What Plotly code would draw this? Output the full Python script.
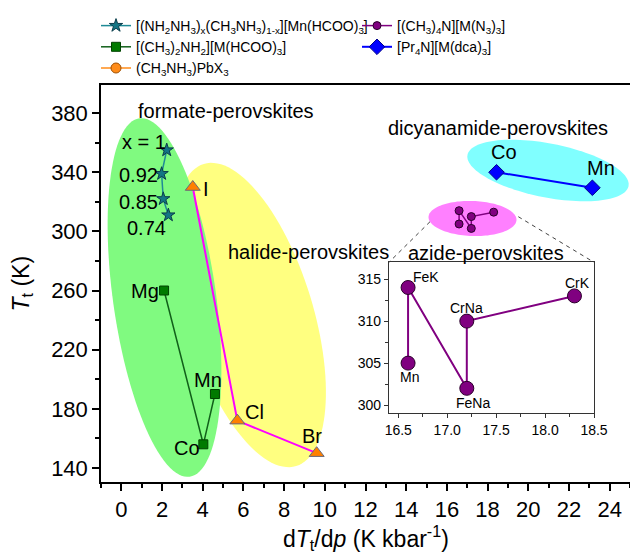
import numpy as np
import plotly.graph_objects as go

# ---------------- data ----------------
formate_x = [2.23, 1.98, 2.06, 2.31]
formate_y = [355, 339, 322, 311]
formate_labels = ["x = 1", "0.92", "0.85", "0.74"]

dma_x = [2.10, 4.03, 4.60]
dma_y = [260, 156, 190]
dma_labels = ["Mg", "Co", "Mn"]

halide_x = [3.51, 5.70, 9.60]
halide_y = [330, 172, 150]
halide_labels = ["I", "Cl", "Br"]

azide_x = [16.6, 16.6, 17.2, 17.2, 18.3]
azide_y = [305, 314, 302, 310, 313]
azide_labels = ["Mn", "FeK", "FeNa", "CrNa", "CrK"]

dca_x = [18.44, 23.15]
dca_y = [340, 329.5]
dca_labels = ["Co", "Mn"]

x_ticks = list(range(0, 25, 2))
y_ticks = list(range(140, 381, 40))
inset_x_ticks = [16.5, 17.0, 17.5, 18.0, 18.5]
inset_y_ticks = [300, 305, 310, 315]

# ---------------- layout geometry ----------------
W, H = 630, 554
ML, MR, MT, MB = 101, 0, 85, 72
XR = [-1, 25]
YR = [130.5, 399]
PW, PH = W - ML - MR, H - MT - MB
FONT = "Arial, Liberation Sans, sans-serif"


def px2data(px, py):
    x = XR[0] + (px - ML) / PW * (XR[1] - XR[0])
    y = YR[1] - (py - MT) / PH * (YR[1] - YR[0])
    return x, y


def ellipse_path(cx, cy, a, b, phi_deg, n=120):
    phi = np.radians(phi_deg)
    t = np.linspace(0, 2 * np.pi, n, endpoint=False)
    u, v = a * np.cos(t), b * np.sin(t)
    X = cx + u * np.cos(phi) - v * np.sin(phi)
    Y = cy + u * np.sin(phi) + v * np.cos(phi)
    pts = [px2data(X[i], Y[i]) for i in range(n)]
    return "M " + " L ".join(f"{p[0]:.4f},{p[1]:.4f}" for p in pts) + " Z"


fig = go.Figure()

shapes = []
for (cx, cy, a, b, ang, col) in [
    (250, 315, 158, 63, 73, "rgb(255,255,128)"),
    (164.5, 297.5, 181, 51.5, 82, "rgb(128,250,128)"),
    (548, 170.5, 82, 27, 11, "rgb(128,255,255)"),
    (472.5, 218.5, 44, 17.5, 2, "rgb(255,128,255)"),
]:
    shapes.append(dict(type="path", path=ellipse_path(cx, cy, a, b, ang),
                       xref="x", yref="y", fillcolor=col, line=dict(width=0),
                       layer="below"))

# inset domain
IX = [0.5444, 0.932]
IY = [0.1746, 0.5534]
ins_left_px = ML + IX[0] * PW
ins_right_px = ML + IX[1] * PW
ins_top_px = MT + (1 - IY[1]) * PH
for (p0, p1) in [((430, 221.7), (ins_left_px, ins_top_px)),
                 ((518.3, 216.7), (ins_right_px, ins_top_px))]:
    a0 = px2data(*p0)
    a1 = px2data(*p1)
    shapes.append(dict(type="line", xref="x", yref="y", x0=a0[0], y0=a0[1],
                       x1=a1[0], y1=a1[1],
                       line=dict(color="#444444", width=1, dash="4px,4px")))

# ---------------- traces ----------------
fig.add_trace(go.Scatter(
    x=formate_x, y=formate_y, mode="lines+markers",
    name="[(NH<sub>2</sub>NH<sub>3</sub>)<sub>x</sub>(CH<sub>3</sub>NH<sub>3</sub>)<sub>1-x</sub>][Mn(HCOO)<sub>3</sub>]",
    line=dict(color="#1f8a96", width=1.5),
    marker=dict(symbol="star", size=10, color="#137584",
                line=dict(color="#0a3c4a", width=1)),
    legend="legend"))
fig.add_trace(go.Scatter(
    x=dma_x, y=dma_y, mode="lines+markers",
    name="[(CH<sub>3</sub>)<sub>2</sub>NH<sub>2</sub>][M(HCOO)<sub>3</sub>]",
    line=dict(color="#11601a", width=1.5),
    marker=dict(symbol="square", size=9, color="#007a00",
                line=dict(color="#004400", width=1)),
    legend="legend"))
fig.add_trace(go.Scatter(
    x=[None], y=[None], mode="lines+markers",
    name="(CH<sub>3</sub>NH<sub>3</sub>)PbX<sub>3</sub>",
    line=dict(color="#ff8c1a", width=1.5),
    marker=dict(symbol="circle", size=10, color="#ff8c1a",
                line=dict(color="#a05000", width=1)),
    legend="legend"))
fig.add_trace(go.Scatter(
    x=halide_x, y=halide_y, mode="lines+markers", showlegend=False,
    line=dict(color="#ff00ff", width=2),
    marker=dict(symbol="triangle-up", size=13, color="#ff8000",
                line=dict(color="#6a6a7a", width=1))))
fig.add_trace(go.Scatter(
    x=azide_x, y=azide_y, mode="lines+markers",
    name="[(CH<sub>3</sub>)<sub>4</sub>N][M(N<sub>3</sub>)<sub>3</sub>]",
    line=dict(color="#800080", width=1.5),
    marker=dict(symbol="circle", size=8, color="#800080",
                line=dict(color="#2a002a", width=1)),
    legend="legend2"))
fig.add_trace(go.Scatter(
    x=dca_x, y=dca_y, mode="lines+markers",
    name="[Pr<sub>4</sub>N][M(dca)<sub>3</sub>]",
    line=dict(color="#0000ff", width=2),
    marker=dict(symbol="diamond", size=12, color="#0000ff",
                line=dict(color="#00008a", width=1)),
    legend="legend2"))
fig.add_trace(go.Scatter(
    x=azide_x, y=azide_y, mode="lines+markers", showlegend=False,
    xaxis="x2", yaxis="y2",
    line=dict(color="#800080", width=2),
    marker=dict(symbol="circle", size=14, color="#800080",
                line=dict(color="#2a002a", width=1))))

# ---------------- annotations ----------------
ann = []


def lab(x, y, text, dx, dy, size=20, xref="x", yref="y"):
    ann.append(dict(x=x, y=y, xref=xref, yref=yref, text=text, showarrow=False,
                    xshift=dx, yshift=dy, xanchor="center", yanchor="middle",
                    font=dict(size=size, color="black", family=FONT)))


for x, y, t, s in zip(formate_x, formate_y, formate_labels,
                      [(-22.7, 7.7), (-23.4, -1), (-24.6, -2.7), (-22.3, -13)]):
    lab(x, y, t, *s)
for x, y, t, s in zip(dma_x, dma_y, dma_labels,
                      [(-19, 0), (-16.3, -3.7), (-7.2, 14)]):
    lab(x, y, t, *s)
for x, y, t, s in zip(halide_x, halide_y, halide_labels,
                      [(13.3, -1.6), (17.2, 9), (-5, 17.3)]):
    lab(x, y, t, *s)
for x, y, t, s in zip(dca_x, dca_y, dca_labels, [(7.3, 20), (8.3, 19.7)]):
    lab(x, y, t, *s)
for x, y, t, s in zip(azide_x, azide_y, azide_labels,
                      [(1, -14), (18, 11), (6.5, -14.5), (0, 13), (3, 13)]):
    lab(x, y, t, *s, size=14, xref="x2", yref="y2")

for (px, py, t) in [(225.8, 111, "formate-perovskites"),
                    (308.8, 251.7, "halide-perovskites"),
                    (498, 128.3, "dicyanamide-perovskites"),
                    (485.5, 253, "azide-perovskites")]:
    dx, dy = px2data(px, py)
    lab(dx, dy, t, 0, 0)

# axis titles
ann.append(dict(x=0.5, y=(H - MB - 538) / PH, xref="paper", yref="paper",
                text="d<i>T</i><sub>t</sub>/d<i>p</i> (K kbar<sup>-1</sup>)",
                showarrow=False, xanchor="center", yanchor="middle",
                font=dict(size=23, color="black", family=FONT)))
ann.append(dict(x=(22 - ML) / PW, y=0.5, xref="paper", yref="paper",
                text="<i>T</i><sub>t</sub> (K)", textangle=-90,
                showarrow=False, xanchor="center", yanchor="middle",
                font=dict(size=23, color="black", family=FONT)))

axis_common = dict(showline=True, linecolor="black", linewidth=1.5,
                   ticks="outside", tickcolor="black", tickwidth=1.5,
                   showgrid=False, zeroline=False,
                   tickfont=dict(size=22, color="black", family=FONT))

inset_common = dict(showline=True, linecolor="#333", linewidth=1.2, mirror=True,
                    ticks="outside", ticklen=4, tickcolor="#333", tickwidth=1.2,
                    showgrid=False, zeroline=False,
                    tickfont=dict(size=14, color="black", family=FONT))

fig.update_layout(
    width=W, height=H,
    margin=dict(l=ML, r=MR, t=MT, b=MB, pad=0, autoexpand=False),
    paper_bgcolor="white", plot_bgcolor="white",
    font=dict(family=FONT, color="black"),
    shapes=shapes, annotations=ann,
    xaxis=dict(range=XR, tickvals=x_ticks, ticklen=7, mirror=True,
               minor=dict(dtick=1, tick0=0, ticks="outside", ticklen=4,
                          tickcolor="black", tickwidth=1.5),
               **axis_common),
    yaxis=dict(range=YR, tickvals=y_ticks, ticklen=7,
               minor=dict(dtick=20, tick0=140, ticks="outside", ticklen=4,
                          tickcolor="black", tickwidth=1.5),
               **axis_common),
    xaxis2=dict(domain=IX, anchor="y2", range=[16.405, 18.5],
                tickvals=inset_x_ticks, tickformat=".1f",
                minor=dict(dtick=0.25, tick0=16.5, ticks="outside", ticklen=3,
                           tickcolor="#333"),
                **inset_common),
    yaxis2=dict(domain=IY, anchor="x2", range=[299.1, 317],
                tickvals=inset_y_ticks,
                minor=dict(dtick=2.5, tick0=300, ticks="outside", ticklen=3,
                           tickcolor="#333"),
                **inset_common),
    legend=dict(x=(96 - ML) / PW, y=1 + (MT - 10) / PH, xanchor="left",
                yanchor="top", bgcolor="rgba(0,0,0,0)",
                font=dict(size=14, color="black", family=FONT),
                tracegroupgap=0),
    legend2=dict(x=(357 - ML) / PW, y=1 + (MT - 10) / PH, xanchor="left",
                 yanchor="top", bgcolor="rgba(0,0,0,0)",
                 font=dict(size=14, color="black", family=FONT),
                 tracegroupgap=0),
)

fig.write_html("out.html")
